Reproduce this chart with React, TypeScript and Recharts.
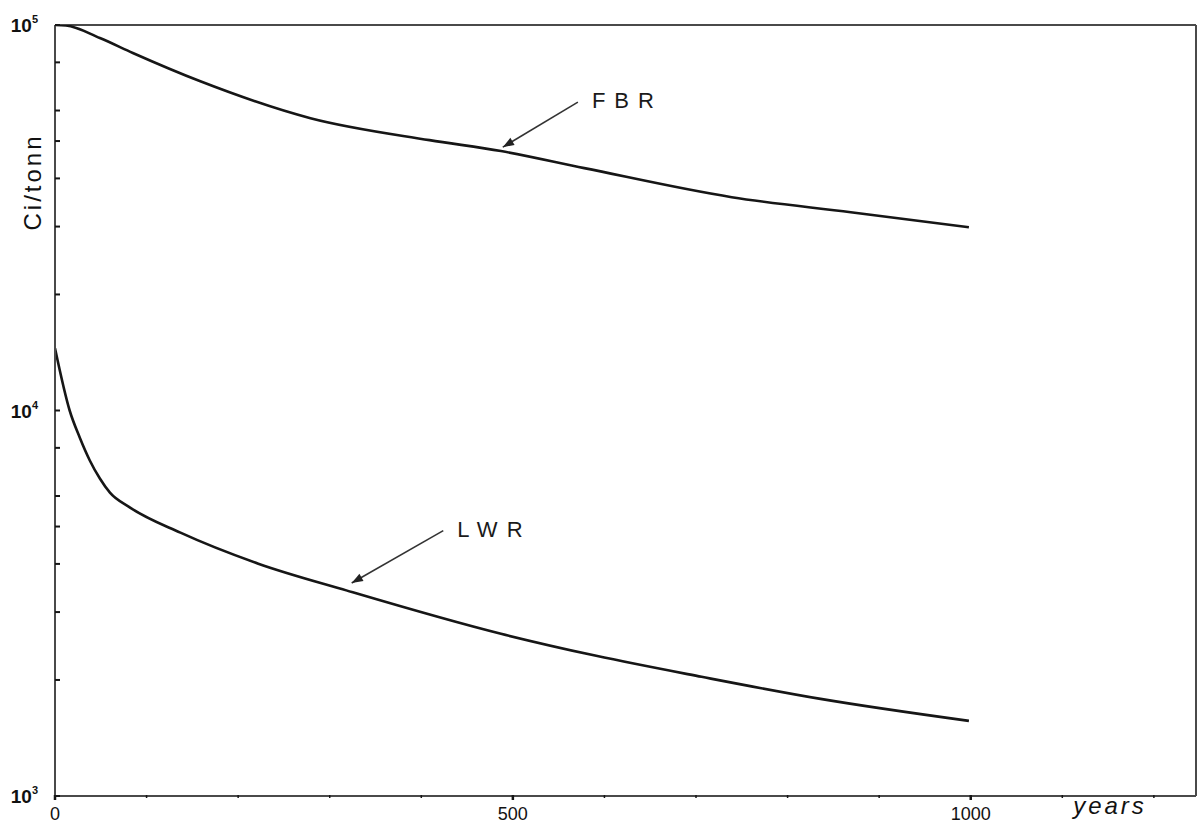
import { LineChart, Line, XAxis, YAxis, ReferenceLine } from "recharts";

// activity of spent fuel, Ci per tonne, against years after discharge
const fbrYears = [0, 12, 49, 85, 158, 279, 409, 487, 578, 739, 869, 998];
const fbrCi = [100000, 99700, 92500, 84600, 71550, 57300, 50270, 47100, 42530, 35750, 32680, 29880];

const lwrYears = [0, 16, 27, 38, 49, 60, 82, 137, 222, 319, 487, 591, 706, 836, 998];
const lwrCi = [14500, 10000, 8510, 7420, 6660, 6120, 5600, 4820, 4005, 3410, 2635, 2310, 2038, 1786, 1566];

const xTicks = [0, 100, 200, 300, 400, 500, 600, 700, 800, 900, 1000, 1100, 1200];
const xLabels = [0, 500, 1000];
const xMax = 1246;

const yTicks = [
  1000, 2000, 3000, 4000, 5000, 6000, 7000, 8000, 9000,
  10000, 20000, 30000, 40000, 50000, 60000, 70000, 80000, 90000, 100000,
];
const yLabels: Record<number, string> = { 1000: "3", 10000: "4", 100000: "5" };

const fbrData = fbrYears.map((t, i) => ({ t, ci: fbrCi[i] }));
const lwrData = lwrYears.map((t, i) => ({ t, ci: lwrCi[i] }));

const INK = "#161616";
const AXIS = "#4a4a4a";
const FONT = "'Liberation Sans', Arial, sans-serif";

function XTick({ x, y, payload }: any) {
  const v = payload.value;
  const major = xLabels.includes(v);
  return (
    <g>
      <line x1={x} y1={y - 1} x2={x} y2={y + (major ? 4 : 2)} stroke={INK} strokeWidth={major ? 2.5 : 1.5} />
      {major && (
        <text x={x} y={y + 24} textAnchor="middle" fontSize={18} fontFamily={FONT} fill="#111">
          {v}
        </text>
      )}
    </g>
  );
}

function YTick({ x, y, payload }: any) {
  const v = payload.value;
  const sup = yLabels[v];
  return (
    <g>
      <line x1={x} y1={y} x2={x + 5} y2={y} stroke={INK} strokeWidth={2} />
      {sup && (
        <text x={x - 17} y={y + 7} textAnchor="end" fontSize={19} fontFamily={FONT} fontWeight="bold" fill="#111">
          10
          <tspan fontSize={11} dy={-9}>
            {sup}
          </tspan>
        </text>
      )}
    </g>
  );
}

function Arrow(text: string) {
  return (props: any) => {
    const { x1, y1, x2, y2 } = props;
    const ang = Math.atan2(y2 - y1, x2 - x1);
    const len = 12;
    const w = 0.35;
    const ax = x2 - len * Math.cos(ang - w);
    const ay = y2 - len * Math.sin(ang - w);
    const bx = x2 - len * Math.cos(ang + w);
    const by = y2 - len * Math.sin(ang + w);
    return (
      <g>
        <line x1={x1} y1={y1} x2={x2} y2={y2} stroke="#333" strokeWidth={1.6} />
        <polygon points={`${x2},${y2} ${ax},${ay} ${bx},${by}`} fill="#222" />
        <text
          x={x1 + 14}
          y={y1 + 6}
          fontSize={22}
          fontFamily={FONT}
          letterSpacing={9}
          fill="#1a1a1a"
        >
          {text}
        </text>
      </g>
    );
  };
}

export default function App() {
  return (
    <div style={{ position: "absolute", left: 0, top: 0, width: 1200, height: 823, background: "#fff" }}>
      <LineChart width={1200} height={823} margin={{ top: 25, right: 4, bottom: 0, left: 0 }}>
        <XAxis
          type="number"
          dataKey="t"
          domain={[0, xMax]}
          ticks={xTicks}
          allowDataOverflow
          height={27}
          stroke={AXIS}
          strokeWidth={2}
          tickLine={false}
          tickSize={0}
          tickMargin={0}
          tick={<XTick />}
          label={(p: any) => {
            const vb = p.viewBox;
            return (
              <text
                x={vb.x + vb.width - 86}
                y={vb.y + 18}
                textAnchor="middle"
                fontSize={24}
                fontStyle="italic"
                letterSpacing={3}
                fontFamily={FONT}
                fill="#111"
              >
                years
              </text>
            );
          }}
        />
        <YAxis
          type="number"
          dataKey="ci"
          scale="log"
          domain={[1000, 100000]}
          ticks={yTicks}
          allowDataOverflow
          width={55}
          stroke={AXIS}
          strokeWidth={2}
          tickLine={false}
          tickSize={0}
          tickMargin={0}
          tick={<YTick />}
          label={(p: any) => {
            const vb = p.viewBox;
            const cx = vb.x + 35;
            const cy = vb.y + 157;
            return (
              <text
                x={cx}
                y={cy}
                transform={`rotate(-90 ${cx} ${cy})`}
                textAnchor="middle"
                dominantBaseline="middle"
                fontSize={24}
                letterSpacing={3}
                fontFamily={FONT}
                fill="#111"
              >
                Ci/tonn
              </text>
            );
          }}
        />
        <ReferenceLine y={100000} stroke={AXIS} strokeWidth={2} />
        <ReferenceLine x={xMax} stroke={AXIS} strokeWidth={2} />
        <Line
          data={fbrData}
          dataKey="ci"
          type="monotone"
          stroke={INK}
          strokeWidth={2.6}
          dot={false}
          isAnimationActive={false}
        />
        <Line
          data={lwrData}
          dataKey="ci"
          type="monotone"
          stroke={INK}
          strokeWidth={2.6}
          dot={false}
          isAnimationActive={false}
        />
        <ReferenceLine
          segment={[
            { x: 571, y: 63100 },
            { x: 489, y: 48200 },
          ]}
          shape={Arrow("FBR")}
        />
        <ReferenceLine
          segment={[
            { x: 424, y: 4880 },
            { x: 324, y: 3570 },
          ]}
          shape={Arrow("LWR")}
        />
      </LineChart>
    </div>
  );
}
